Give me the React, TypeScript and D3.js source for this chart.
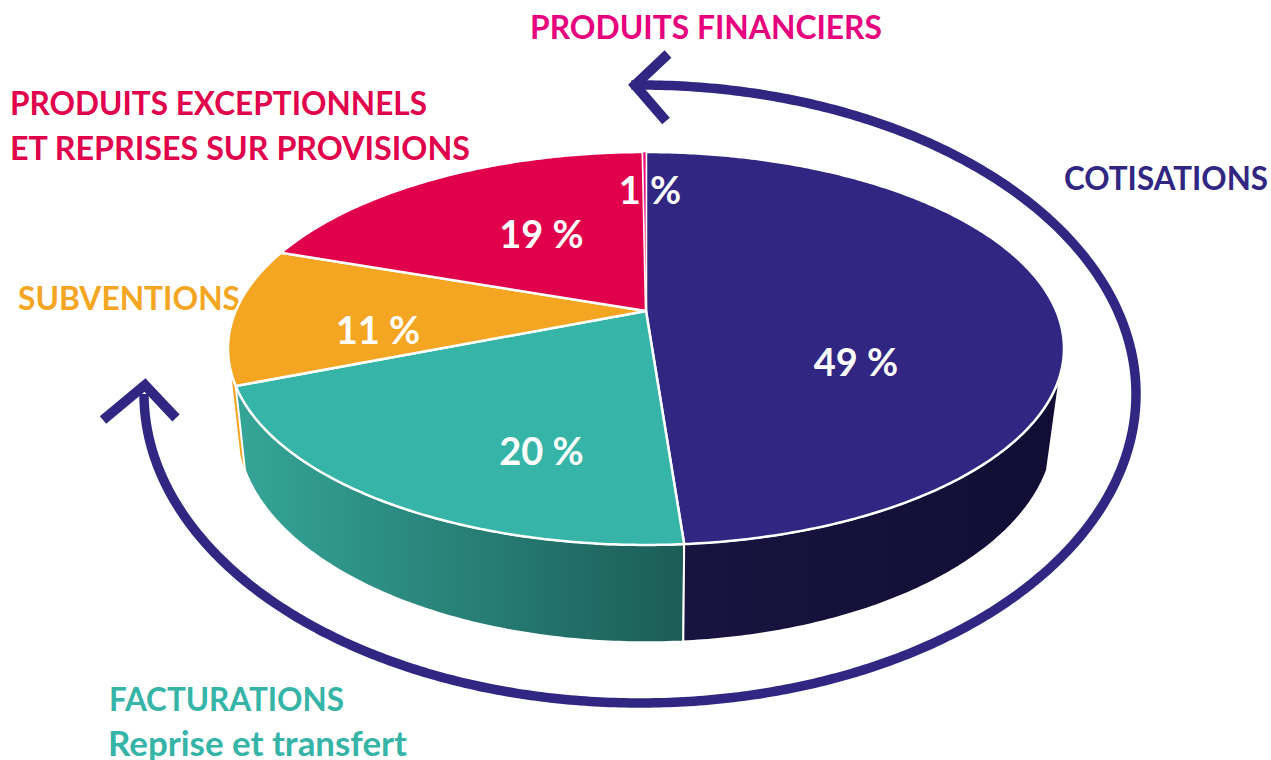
import React from "react";
import * as d3 from "d3";

// ---- data
const categories = ["Cotisations", "Facturations", "Subventions", "Produits exceptionnels", "Produits financiers"];
const shares = [48.8, 20.2, 11.3, 19.55, 0.15];
const shareLabels = ["49 %", "20 %", "11 %", "19 %", "1 %"];
const sliceColors = ["#312783", "#35b4a7", "#f4a522", "#e0004b", "#ec0d7a"];

// ---- layout
const W = 1271, H = 760;
const CX = 646;
const k = 0.1908;
const topRim = { a: 410.3, b: 189.3, y0: 311 };
const lowRim = { a: 401, b: 205, y0: 389 };
const FONT = "Lato, Carlito, 'Open Sans', sans-serif";

type Rim = { a: number; b: number; y0: number };
const project = (r: Rim, t: number, radius = 1): [number, number] => {
  const u = Math.sin(t) * radius, v = -Math.cos(t) * radius;
  const w = 1 - k * v;
  return [CX + (r.a * u) / w, r.y0 + (r.b * v) / w];
};
const line = d3.line();
const samples = (a0: number, a1: number) => {
  const n = Math.max(2, Math.ceil(Math.abs(a1 - a0) / 0.01));
  return d3.range(n + 1).map((i) => a0 + ((a1 - a0) * i) / n);
};
const rad = (deg: number) => (deg * Math.PI) / 180;

const arcs = d3.pie<number>().sort(null).value((d) => d)(shares);

const topPath = (a0: number, a1: number) =>
  line([project(topRim, 0, 0), ...samples(a0, a1).map((t) => project(topRim, t))]) + "Z";
const wallPath = (a0: number, a1: number, a0Low = a0) =>
  line([
    ...samples(a0, a1).map((t) => project(topRim, t)),
    ...samples(a1, a0Low).map((t) => project(lowRim, t)),
  ]) + "Z";

// visible wall spans per slice; navy starts where the rim leaves the silhouette
const wallStartTopDeg = 108.5;
const wallStartLowDeg = 111.6;
const sliverDeg = 4;
const walls = [
  { i: 2, d: wallPath(arcs[2].startAngle, arcs[2].startAngle + rad(sliverDeg)), fill: sliceColors[2], sw: 0 },
  { i: 1, d: wallPath(arcs[1].startAngle, arcs[1].endAngle), fill: "url(#tealWall)", sw: 2 },
  { i: 0, d: wallPath(rad(wallStartTopDeg), arcs[0].endAngle, rad(wallStartLowDeg)), fill: "url(#navyWall)", sw: 2 },
];

// guide arrow
const guide = { cx: 640, cy: 394, rx: 496, ry: 309 };
const guideAngles = samples(rad(-1), rad(270));
const guidePath = line(
  guideAngles.map((t) => [guide.cx + guide.rx * Math.sin(t), guide.cy - guide.ry * Math.cos(t)] as [number, number])
)!;
const heads: [number, number][][] = [
  [[668, 54], [635, 85], [666, 121]],
  [[103, 420], [145, 385], [176, 418]],
];

const titles = [
  { text: "PRODUITS FINANCIERS", x: 530, y: 39, fill: "#e6007e", size: 32.5, len: 352 },
  { text: "PRODUITS EXCEPTIONNELS", x: 10, y: 115, fill: "#e0004b", size: 32.5, len: 417 },
  { text: "ET REPRISES SUR PROVISIONS", x: 10, y: 160, fill: "#e0004b", size: 32.5, len: 460 },
  { text: "COTISATIONS", x: 1064, y: 190, fill: "#312783", size: 32.5, len: 204 },
  { text: "SUBVENTIONS", x: 18, y: 310, fill: "#f4a522", size: 32.5, len: 222 },
  { text: "FACTURATIONS", x: 109, y: 711, fill: "#35b4a7", size: 32.5, len: 235 },
  { text: "Reprise et transfert", x: 108, y: 756, fill: "#35b4a7", size: 34, len: 299 },
];
const shareAnchors = [
  { x: 856, y: 376 },
  { x: 541.5, y: 465 },
  { x: 378, y: 344 },
  { x: 541.5, y: 248 },
  { x: 650, y: 204 },
];

export default function App() {
  return (
    <svg
      width={W}
      height={H}
      viewBox={`0 0 ${W} ${H}`}
      style={{ position: "absolute", left: 0, top: 0, background: "#fff" }}
      fontFamily={FONT}
      fontWeight={700}
    >
      <defs>
        <linearGradient id="tealWall" gradientUnits="userSpaceOnUse" x1={240} x2={685} y1={0} y2={0}>
          <stop offset="0" stopColor="#35a598" />
          <stop offset="1" stopColor="#1b5c56" />
        </linearGradient>
        <linearGradient id="navyWall" gradientUnits="userSpaceOnUse" x1={685} x2={1060} y1={0} y2={0}>
          <stop offset="0" stopColor="#18143f" />
          <stop offset="1" stopColor="#110d34" />
        </linearGradient>
      </defs>

      <path d={guidePath} fill="none" stroke="#312783" strokeWidth={9.5} />
      {heads.map((h, i) => (
        <path key={i} d={line(h)!} fill="none" stroke="#312783" strokeWidth={10} strokeLinejoin="miter" />
      ))}

      {titles.map((t) => (
        <text key={t.text} x={t.x} y={t.y} fill={t.fill} fontSize={t.size} textLength={t.len} lengthAdjust="spacingAndGlyphs">
          {t.text}
        </text>
      ))}

      {walls.map((w) => (
        <path key={w.i} d={w.d} fill={w.fill} stroke="#fff" strokeWidth={w.sw} />
      ))}
      {arcs.map((a, i) => (
        <path
          key={categories[i]}
          d={topPath(a.startAngle, a.endAngle)}
          fill={sliceColors[i]}
          stroke="#fff"
          strokeWidth={i === 4 ? 0.8 : 2.5}
          strokeLinejoin="round"
        />
      ))}
      {shareLabels.map((s, i) => (
        <text key={s} x={shareAnchors[i].x} y={shareAnchors[i].y} textAnchor="middle" fill="#fff" fontSize={38}>
          {s}
        </text>
      ))}
    </svg>
  );
}
